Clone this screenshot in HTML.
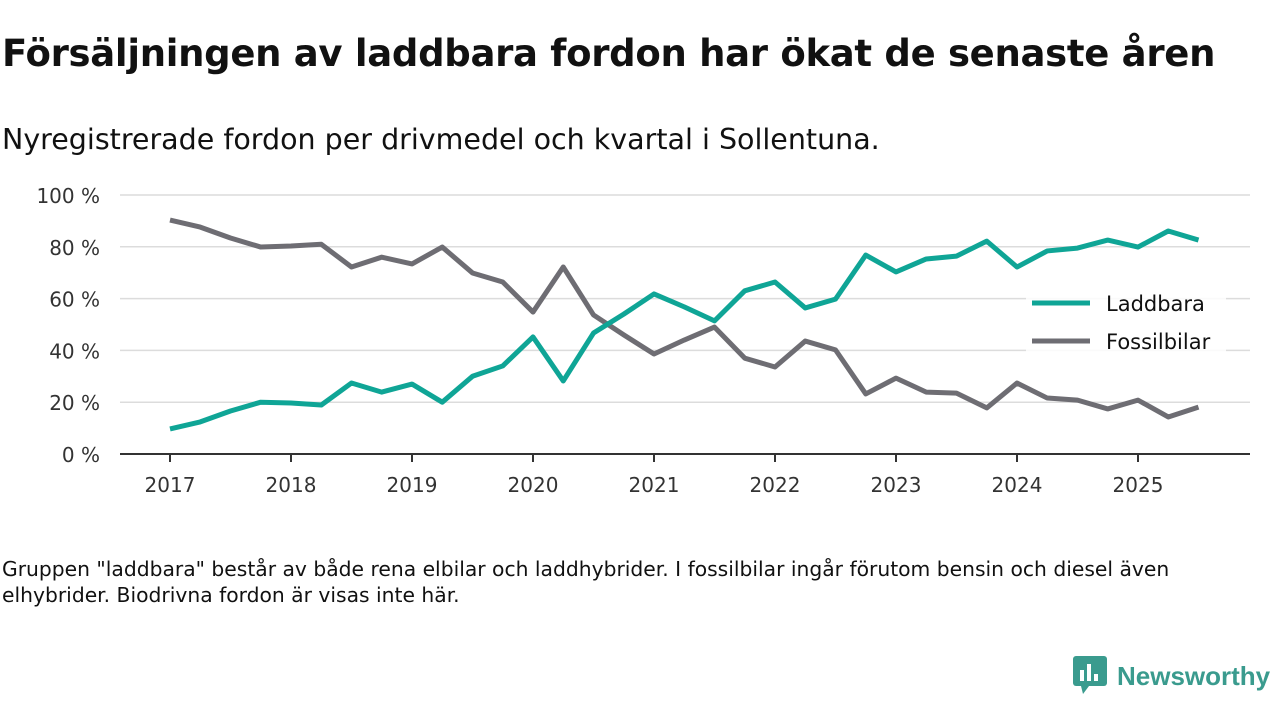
<!DOCTYPE html>
<html><head><meta charset="utf-8"><style>
body{margin:0;width:1280px;height:720px;background:#fff;font-family:"DejaVu Sans","Liberation Sans",sans-serif;color:#111;overflow:hidden;position:relative}
.t{position:absolute;left:2px;top:32px;font-size:37px;font-weight:bold;margin:0;letter-spacing:-0.3px;white-space:nowrap}
.s{position:absolute;left:2px;top:123px;font-size:28.5px;white-space:nowrap}
.n{position:absolute;left:2px;top:556px;font-size:20.3px;line-height:26px;width:1225px}
.logo{position:absolute;left:1073px;top:656px;display:flex;align-items:center;font-size:26px;font-weight:bold;color:#3a9b8e;font-family:"Liberation Sans",sans-serif;white-space:nowrap}
</style></head><body>
<h1 class="t">Försäljningen av laddbara fordon har ökat de senaste åren</h1>
<div class="s">Nyregistrerade fordon per drivmedel och kvartal i Sollentuna.</div>
<svg id="c" width="1280" height="720" style="position:absolute;left:0;top:0"></svg>
<div class="n">Gruppen "laddbara" består av både rena elbilar och laddhybrider. I fossilbilar ingår förutom bensin och diesel även elhybrider. Biodrivna fordon är visas inte här.</div>
<div class="logo"><svg width="36" height="40" style="margin-right:8px"><rect x="0" y="0" width="34" height="30" rx="3" fill="#3a9b8e"/><polygon points="8,30 16,30 10,38" fill="#3a9b8e"/><rect x="7" y="14" width="4" height="11" fill="#fff"/><rect x="14" y="8" width="4" height="17" fill="#fff"/><rect x="21" y="18" width="4" height="7" fill="#fff"/></svg>Newsworthy</div>
<script>
const years=[2017,2018,2019,2020,2021,2022,2023,2024,2025];
const yTicks=[0,20,40,60,80,100];
const laddbara=[9.7,12.4,16.6,20,19.7,18.9,27.4,23.9,27,20,30,34,45.2,28.2,46.7,54,61.8,56.8,51.4,63,66.4,56.4,59.8,76.8,70.3,75.3,76.4,82.2,72.2,78.4,79.5,82.6,79.9,86.1,82.6];
const fossil=[90.3,87.6,83.4,79.9,80.3,81,72.2,76,73.4,79.9,69.9,66.4,54.8,72.2,53.7,46,38.6,44,49,37,33.6,43.6,40.2,23.2,29.3,23.9,23.5,17.8,27.4,21.6,20.8,17.4,20.8,14.3,18.1];
const svg=document.getElementById('c');const NS='http://www.w3.org/2000/svg';
const x=t=>170+t*(1138-170)/8;
const y=v=>454-v*2.59;
function mk(tag,a){const e=document.createElementNS(NS,tag);for(const k in a)e.setAttribute(k,a[k]);svg.appendChild(e);return e;}
yTicks.forEach(v=>{
 const g=mk('line',{x1:120,x2:1250,y1:y(v),y2:y(v),stroke:v?'#dcdcdc':'#333','stroke-width':v?1.5:2});
 
 
 const t=mk('text',{x:100,y:y(v)+8,'text-anchor':'end','font-size':20,fill:'#333'});t.textContent=v+' %';
 
 
});
years.forEach((yr,i)=>{
 const tk=mk('line',{x1:x(i),x2:x(i),y1:454,y2:462,stroke:'#333','stroke-width':2});
 
 
 const t=mk('text',{x:x(i),y:492,'text-anchor':'middle','font-size':20,fill:'#333'});t.textContent=yr;
 
 
});
function line(d,col,name){
 const p=mk('polyline',{points:d.map((v,i)=>x(i/4)+','+y(v)).join(' '),fill:'none',stroke:col,'stroke-width':5,'stroke-linejoin':'round'});
 
 
}
line(fossil,'#6e6d73','fossilbilar-line');
line(laddbara,'#0fa596','laddbara-line');
[['Laddbara','#0fa596',303],['Fossilbilar','#6e6d73',341]].forEach(([n,c,yy])=>{
 mk('rect',{x:1026,y:yy-16,width:200,height:34,fill:'#fff',opacity:0.85});
 const l=mk('line',{x1:1032,x2:1090,y1:yy,y2:yy,stroke:c,'stroke-width':5});
 
 
 const t=mk('text',{x:1106,y:yy+8,'font-size':21,fill:'#111'});t.textContent=n;
 
 
});
</script>
</body></html>
